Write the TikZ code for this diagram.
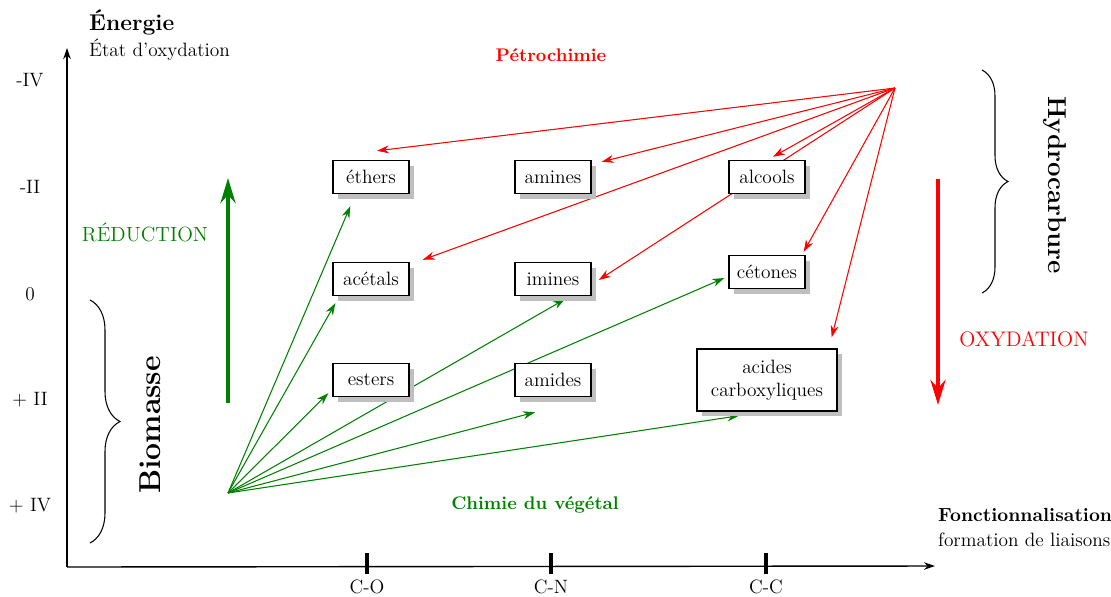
\documentclass[tikz,border=0pt]{standalone}
\usepackage{xcolor}
\usepackage{tikz}
\usetikzlibrary{arrows.meta, shadows, decorations.pathreplacing, backgrounds}

\definecolor{vert}{RGB}{0,128,0}
\definecolor{rouge}{RGB}{255,0,0}
\newcommand{\taille}[1]{\fontsize{#1}{1.2\dimexpr#1pt\relax}\selectfont}

\tikzset{
    famille/.style={draw, line width=0.8pt, fill=white, minimum width=1.52cm, minimum height=0.66cm,
        inner sep=2pt, font=\taille{11},
        drop shadow={shadow xshift=0.1cm, shadow yshift=-0.1cm, fill=black!25, opacity=1}},
    fleche/.style={-{Stealth[length=2.4mm, width=1.6mm]}, line width=0.6pt},
    grosfleche/.style={-{Stealth[length=5mm, width=3mm]}, line width=2.8pt},
    accolade/.style={decorate, line width=0.6pt},
    graduation/.style={line width=2.4pt}
}

\begin{document}
\begin{tikzpicture}[x=0.02cm, y=-0.02cm, font=\taille{11}]
        \useasboundingbox (0,0) rectangle (1111,596);

        \coordinate (O) at (67, 567);
        \coordinate (Ytop) at (67, 48);
        \coordinate (Xend) at (935, 566);
        \coordinate (Petro) at (895, 88);
        \coordinate (Vege) at (228, 493);
        \coordinate (ReducA) at (228, 403);
        \coordinate (ReducB) at (228, 178);
        \coordinate (OxydA) at (938, 179);
        \coordinate (OxydB) at (938, 405);

        % axes
        \draw[-{Stealth[length=2.2mm, width=1.5mm]}, line width=0.8pt] (O) -- (Ytop);
        \draw[-{Stealth[length=2.2mm, width=1.5mm]}, line width=0.8pt] (O) -- (Xend);
        \node[anchor=west, font=\taille{13}\bfseries] (energie) at (83, 22) {Énergie};
        \node[anchor=west] (etat) at (83, 50) {État d'oxydation};
        \node[anchor=west, font=\taille{10.8}\bfseries] (fonct) at (932, 515) {Fonctionnalisation};
        \node[anchor=west] (formation) at (932, 540) {formation de liaisons};

        \node (mIV) at (30, 80) {-IV};
        \node (mII) at (30, 187) {-II};
        \node (zero) at (30, 294) {0};
        \node (pII) at (30, 400) {+ II};
        \node (pIV) at (30, 506) {+ IV};

        \draw[graduation] (367, 553) -- (367, 574) node[below, inner sep=2pt] (CO) {C-O};
        \draw[graduation] (551, 553) -- (551, 574) node[below, inner sep=2pt] (CN) {C-N};
        \draw[graduation] (766, 553) -- (766, 574) node[below, inner sep=2pt] (CC) {C-C};

        \node[text=rouge, font=\taille{10.4}\bfseries] (petrochimie) at (551, 55) {Pétrochimie};
        \node[text=vert, font=\taille{10.4}\bfseries] (vegetal) at (535, 505) {Chimie du végétal};
        \node[text=vert, font=\taille{11.7}] (reduction) at (145, 232) {RÉDUCTION};
        \node[text=rouge, font=\taille{12}] (oxydation) at (1024, 339) {OXYDATION};

        \draw[vert, grosfleche] (ReducA) -- (ReducB);
        \draw[rouge, grosfleche] (OxydA) -- (OxydB);

        % accolades
        \draw[accolade, decoration={brace, amplitude=0.6cm}] (90, 300) -- (90, 543);
        \node[rotate=90, font=\taille{17.2}\bfseries] (biomasse) at (150, 425) {Biomasse};
        \draw[accolade, decoration={brace, amplitude=0.52cm}] (982, 70) -- (982, 293);
        \node[rotate=-90, font=\taille{14.7}\bfseries] (hydrocarbure) at (1055, 185) {Hydrocarbure};

        % familles
        \node[famille] (ethers) at (371, 177) {éthers};
        \node[famille] (amines) at (553, 177) {amines};
        \node[famille] (alcools) at (767, 177) {alcools};
        \node[famille] (acetals) at (371, 279) {acétals};
        \node[famille] (imines) at (553, 279) {imines};
        \node[famille] (cetones) at (767, 272) {cétones};
        \node[famille] (esters) at (371, 380) {esters};
        \node[famille] (amides) at (553, 380) {amides};
        \node[famille, minimum width=2.8cm, minimum height=1.24cm, align=center] (acides) at (767, 380) {acides\\carboxyliques};

        \begin{scope}[on background layer]
            \draw[rouge, fleche] (Petro) -- ([shift={(6,-9)}]ethers.north);
            \draw[rouge, fleche] (Petro) -- ([shift={(10,2)}]amines.north east);
            \draw[rouge, fleche] (Petro) -- ([shift={(13,-2)}]acetals.north east);
            \draw[rouge, fleche] (Petro) -- ([shift={(7,1)}]imines.east);
            \draw[rouge, fleche] (Petro) -- ([shift={(6,-3)}]alcools.north);
            \draw[rouge, fleche] (Petro) -- ([shift={(-2,-3)}]cetones.north east);
            \draw[rouge, fleche] (Petro) -- ([shift={(-6,-11)}]acides.north east);

            \draw[vert, fleche] (Vege) -- ([shift={(18,12)}]ethers.south west);
            \draw[vert, fleche] (Vege) -- ([shift={(3,7)}]acetals.south west);
            \draw[vert, fleche] (Vege) -- ([shift={(-4,-4)}]esters.south west);
            \draw[vert, fleche] (Vege) -- ([shift={(12,3)}]imines.south);
            \draw[vert, fleche] (Vege) -- ([shift={(-4,6)}]cetones.west);
            \draw[vert, fleche] (Vege) -- ([shift={(-18,15)}]amides.south);
            \draw[vert, fleche] (Vege) -- ([shift={(-28,4)}]acides.south);
        \end{scope}
\end{tikzpicture}
\end{document}
